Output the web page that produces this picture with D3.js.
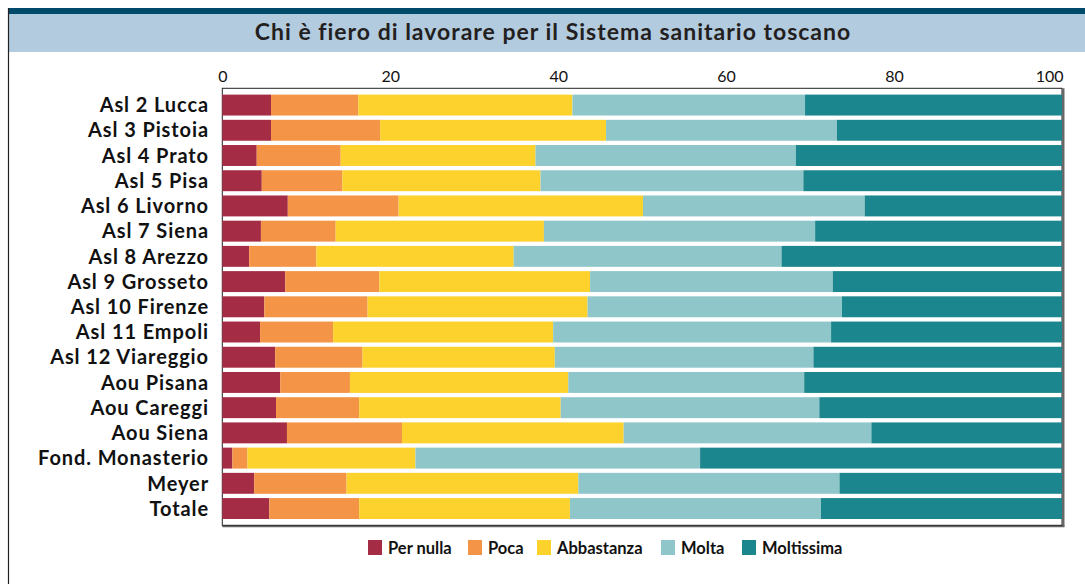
<!DOCTYPE html>
<html>
<head>
<meta charset="utf-8">
<script src="https://cdn.jsdelivr.net/npm/d3@7"></script>
<style>
  html, body { margin: 0; padding: 0; background: #fff; }
  svg { display: block; }
  text { font-family: Lato, "Open Sans", sans-serif; }
</style>
</head>
<body>
<svg id="chart" width="1085" height="584"></svg>
<script>
const categories = ["Asl 2 Lucca","Asl 3 Pistoia","Asl 4 Prato","Asl 5 Pisa","Asl 6 Livorno","Asl 7 Siena","Asl 8 Arezzo","Asl 9 Grosseto","Asl 10 Firenze","Asl 11 Empoli","Asl 12 Viareggio","Aou Pisana","Aou Careggi","Aou Siena","Fond. Monasterio","Meyer","Totale"];
const seriesNames = ["Per nulla","Poca","Abbastanza","Molta","Moltissima"];
const perNulla   = [5.8, 5.8, 4.1, 4.7, 7.8, 4.6, 3.2, 7.5, 5.0, 4.5, 6.3, 6.9, 6.4, 7.7, 1.2, 3.8, 5.6];
const poca       = [10.4, 13.0, 10.0, 9.6, 13.2, 8.9, 8.0, 11.2, 12.3, 8.7, 10.4, 8.3, 9.9, 13.7, 1.8, 11.0, 10.7];
const abbastanza = [25.5, 26.9, 23.2, 23.6, 29.1, 24.8, 23.5, 25.1, 26.2, 26.2, 22.9, 26.0, 24.0, 26.4, 20.0, 27.6, 25.1];
const molta      = [27.7, 27.5, 31.0, 31.3, 26.4, 32.3, 31.9, 28.9, 30.3, 33.1, 30.8, 28.1, 30.8, 29.5, 33.9, 31.1, 29.9];
const moltissima = [30.6, 26.8, 31.7, 30.8, 23.5, 29.4, 33.4, 27.3, 26.2, 27.5, 29.6, 30.7, 28.9, 22.7, 43.1, 26.5, 28.7];
const tickValues = [0, 20, 40, 60, 80, 100];
const colors = ["#a52c45", "#f39447", "#fdd22c", "#8fc6ca", "#1b868d"];
const title = "Chi è fiero di lavorare per il Sistema sanitario toscano";

const seriesData = [perNulla, poca, abbastanza, molta, moltissima];
const table = categories.map((c, i) => {
  const row = { category: c };
  seriesNames.forEach((s, j) => row[s] = seriesData[j][i]);
  return row;
});

const svg = d3.select("#chart");

// header bands
svg.append("rect").attr("x", 8).attr("y", 8).attr("width", 1077).attr("height", 6).attr("fill", "#004a6c");
svg.append("rect").attr("x", 8).attr("y", 14).attr("width", 1077).attr("height", 38).attr("fill", "#b3cbdf");
// left border line
svg.append("line").attr("x1", 8.5).attr("x2", 8.5).attr("y1", 8).attr("y2", 584).attr("stroke", "#222").attr("stroke-width", 1.2);

svg.append("text").attr("x", 553).attr("y", 40).attr("text-anchor", "middle")
  .attr("font-size", 23).attr("font-weight", "bold").attr("fill", "#231f20")
  .attr("letter-spacing", 1.0)
  .text(title);

const x0 = 222.3, x1 = 1062, yTop = 88.3, yBot = 525.3;
const x = d3.scaleLinear().domain([0, 100]).range([x0, x1]);
const y = d3.scaleBand().domain(categories).range([yTop, yBot]).paddingInner(0.17).paddingOuter(0.25);

const stack = d3.stack().keys(seriesNames)(table);

// frame shadow
svg.append("line").attr("x1", x1 + 1.5).attr("x2", x1 + 1.5).attr("y1", yTop).attr("y2", yBot + 1).attr("stroke", "#666").attr("stroke-width", 2);
svg.append("line").attr("x1", x0).attr("x2", x1 + 2.5).attr("y1", yBot + 1).attr("y2", yBot + 1).attr("stroke", "#666").attr("stroke-width", 2);
svg.append("rect").attr("x", x0).attr("y", yTop).attr("width", x1 - x0).attr("height", yBot - yTop)
  .attr("fill", "none").attr("stroke", "#222").attr("stroke-width", 1);

svg.append("g").selectAll("g").data(stack).join("g")
  .attr("fill", (d, i) => colors[i])
  .selectAll("rect").data(d => d).join("rect")
  .attr("x", d => x(d[0]))
  .attr("width", d => Math.min(x(d[1]), x1) - x(d[0]))
  .attr("y", d => y(d.data.category))
  .attr("height", y.bandwidth());

// top axis
const axis = d3.axisTop(x).tickValues(tickValues).tickSize(0).tickPadding(0).tickFormat(d3.format("d"));
const ag = svg.append("g").attr("transform", `translate(0, ${yTop - 6})`).call(axis);
ag.select(".domain").remove();
ag.selectAll("text").attr("font-size", 16).attr("fill", "#111").attr("font-family", "Lato, sans-serif")
  .attr("text-anchor", d => d === 100 ? "end" : "middle")
  .attr("dx", d => d === 100 ? 1 : 0);

// category axis
const yAxis = d3.axisLeft(y).tickSize(0).tickPadding(0);
const yg = svg.append("g").attr("transform", `translate(209, 0)`).call(yAxis);
yg.select(".domain").remove();
yg.selectAll("text").attr("font-size", 20).attr("font-weight", "bold").attr("fill", "#111")
  .attr("letter-spacing", 0.9)
  .attr("font-family", "Lato, sans-serif").attr("dy", "0.36em");

// legend
const legendX = [368, 468, 537, 661, 742];
const lg = svg.append("g").selectAll("g").data(seriesNames).join("g")
  .attr("transform", (d, i) => `translate(${legendX[i]}, 540)`);
lg.append("rect").attr("width", 14).attr("height", 15).attr("fill", (d, i) => colors[i]);
lg.append("text").attr("x", 20).attr("y", 13.5).attr("font-size", 16.5).attr("font-weight", "bold")
  .attr("fill", "#111").text(d => d);
</script>
</body>
</html>
